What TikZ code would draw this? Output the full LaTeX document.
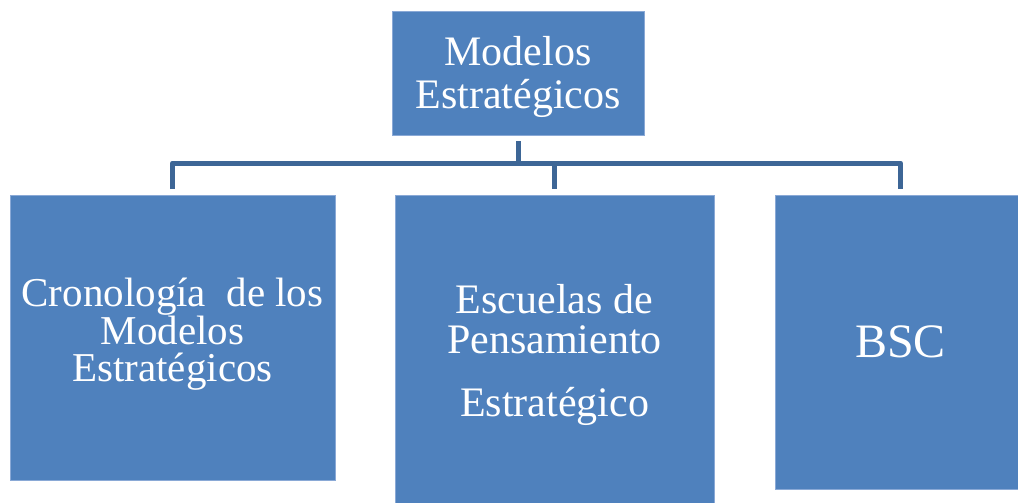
\documentclass[tikz,border=0pt]{standalone}
\usepackage{fontspec}
\setmainfont{Liberation Serif}
\definecolor{boxfill}{HTML}{4F81BD}
\definecolor{boxedge}{HTML}{8AA9D6}
\definecolor{linecol}{HTML}{3D6696}
\begin{document}
\begin{tikzpicture}[x=1pt,y=-1pt,
  box/.style={rectangle, fill=boxfill, draw=boxedge, line width=1pt, inner sep=0pt, outer sep=0pt},
  boxtext/.style={text=white, align=center, inner sep=0pt},
  conn/.style={draw=linecol, line width=5pt, line join=round}]
\useasboundingbox (0,0) rectangle (1018,503);
\node[box, minimum width=252pt, minimum height=123pt,
  label={[boxtext, font=\fontsize{42}{43}\selectfont, yshift=-3pt]center:Modelos\\Estratégicos}] (top) at (518,73.5) {};
\node[box, minimum width=325pt, minimum height=285pt,
  label={[boxtext, font=\fontsize{41}{37}\selectfont, yshift=3pt]center:Cronología\ \ de los\\Modelos\\Estratégicos}] (left) at (172.5,337.5) {};
\node[box, minimum width=319pt, minimum height=310pt,
  label={[boxtext, font=\fontsize{42}{40}\selectfont, yshift=-5pt]center:Escuelas de\\Pensamiento\\[23pt]Estratégico}] (mid) at (554.5,350) {};
\node[box, minimum width=251pt, minimum height=294pt,
  label={[boxtext, font=\fontsize{48}{50}\selectfont]center:BSC}] (right) at (900.5,342) {};
\coordinate (bus) at (0,163);
\draw[conn, shorten <=6pt] (top.south) -- (top.south |- bus);
\draw[conn, shorten <=6pt, shorten >=6pt] (left.north) -- (left.north |- bus) -- (right.north |- bus) -- (right.north);
\draw[conn, shorten >=6pt] (mid.north |- bus) -- (mid.north);
\end{tikzpicture}
\end{document}
